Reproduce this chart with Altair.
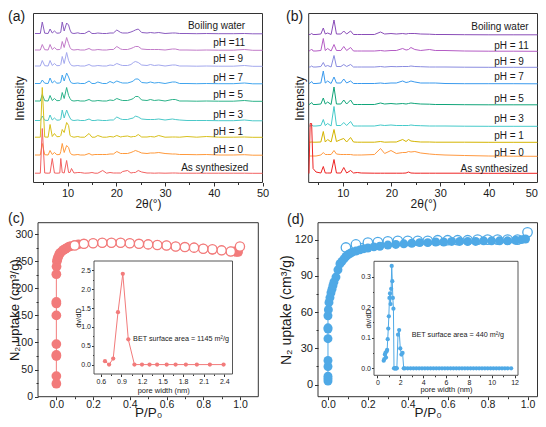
import altair as alt
import pandas as pd

FONT = "Liberation Sans"
INK = "#1a1a1a"
W, H, M = 530, 411, 8

# ---------------- (a) PXRD ----------------
names_a = ["Boiling water", "pH =11", "pH = 9", "pH = 7", "pH = 5", "pH = 3", "pH = 1", "pH = 0", "As synthesized"]
colors_a = ["#8B5CC0", "#C27CC9", "#A3A8EE", "#41A5EE", "#2DB38A", "#4CC9C9", "#D8C01C", "#FF9A3C", "#F26262"]
offsets_a = [148.5, 132, 116, 98.5, 81, 61.5, 45, 27, 9]
label_x_a = [34.7, 39.9, 39.9, 39.9, 39.9, 39.9, 39.9, 39.9, 33.3]
label_y_a = [157, 140, 123.5, 105, 87.5, 67.5, 50.5, 32.5, 14.5]
angles_a = [3.3, 4.4, 4.8, 5.3, 6.0, 6.4, 6.85, 7.3, 7.8, 8.4, 8.6, 8.9, 9.3, 9.8, 10.2, 10.5, 10.8, 11.3,
            12.1, 12.6, 13.5, 14.4, 15.0, 15.6, 16.2, 17.2, 18.0, 18.7, 19.4, 20.1, 20.9, 21.3, 22.3, 23.0,
            23.5, 23.9, 24.5, 25.2, 26.3, 27.0, 27.8, 28.7, 30.0, 31.5, 32.1, 33.0, 34.5, 36.5, 38.5, 41.0,
            44.0, 46.3, 48.0, 50.0]
xrd_a = [
    [0.5, 0.5, 12, 0.8, 0.5, 5, 1, 3, 0.8, 1, 2, 12, 3, 11, 9, 4, 1, 0.5, 1.2, 0.5, 0.5, 3, 0.5, 0.5, 1,
     0.5, 0.5, 1, 1, 4, 1.5, 1, 1, 2, 3, 4, 5, 1.5, 1, 1.5, 1, 1.5, 0.5, 1, 1, 0.5, 0.5, 0.3, 0.5, 0.3,
     0.3, 0.5, 0.2, 0.2],
    [0.5, 0.5, 6, 0.8, 0.5, 6, 1, 3, 0.8, 1, 2, 9, 3, 13, 7, 3, 1, 0.5, 1, 0.5, 0.5, 2, 0.5, 0.5, 1,
     0.5, 0.5, 1, 1, 4, 1.5, 1, 1, 2, 3, 4, 4, 1.5, 1, 1, 1, 1, 0.5, 1.5, 1.5, 0.5, 0.5, 0.3, 0.5, 0.3,
     0.3, 1, 0.2, 0.2],
    [0.5, 0.5, 6, 0.8, 0.5, 6, 1, 3, 0.8, 1, 2, 10, 3, 14, 6, 3, 1, 0.5, 1, 0.5, 0.5, 2, 0.5, 0.5, 1,
     0.5, 0.5, 1.5, 1, 3, 1.5, 1, 1, 2, 4, 5, 4, 1.5, 1, 2, 1, 1.5, 0.5, 1.5, 1.5, 0.5, 0.5, 0.3, 0.5, 0.3,
     0.3, 1, 0.2, 0.2],
    [0.5, 0.5, 4, 0.8, 0.5, 6, 1, 3, 0.8, 1, 2, 9, 3, 11, 7, 3, 1, 0.5, 1, 0.5, 0.5, 3, 0.5, 0.5, 2,
     0.5, 0.5, 2.5, 1, 3, 1.5, 1, 1, 2, 3, 5, 5, 1.5, 1, 2, 1, 1.5, 0.5, 2, 2, 0.5, 0.5, 0.3, 0.5, 0.3,
     0.3, 1, 0.2, 0.2],
    [0.5, 0.5, 7, 0.8, 0.5, 6, 1, 3, 0.8, 1, 2, 9, 3, 14, 6, 3, 1, 0.5, 1, 0.5, 0.5, 2, 0.5, 0.5, 1,
     0.5, 0.5, 1.5, 1, 3, 1.5, 1, 1, 2, 3, 5, 5, 1.5, 1, 2, 1, 1.5, 0.5, 2, 2, 0.5, 0.5, 0.3, 0.5, 0.3,
     0.3, 1, 0.2, 0.2],
    [0.5, 0.5, 5, 0.8, 0.5, 6, 1, 3, 0.8, 1, 2, 11, 3, 11, 6, 3, 1, 0.5, 1, 0.5, 0.5, 2, 0.5, 0.5, 1,
     0.5, 0.5, 1, 1, 4, 2, 1.5, 1.5, 2.5, 3, 5, 4, 2, 1.5, 1.5, 1.5, 2, 1, 2, 1.5, 1, 0.5, 0.5, 0.5, 0.3,
     0.3, 1, 0.2, 0.2],
    [0.3, 0.3, 50, 0.5, 0.3, 13, 1, 4, 0.8, 1, 2, 8, 5, 15, 12, 2, 1, 0.3, 1, 0.3, 0.3, 4, 0.3, 0.3, 2,
     0.3, 0.3, 1, 0.5, 2, 0.5, 1, 1.5, 0.5, 1, 1, 3, 0.5, 0.5, 1, 0.5, 2, 0.3, 0.5, 0.5, 0.3, 1, 0.3, 1, 0.3,
     0.3, 0.5, 0.2, 0.2],
    [0.5, 0.5, 12, 0.8, 0.5, 5, 1, 3, 0.8, 1, 4, 12, 3, 10, 8, 3, 1, 0.5, 1, 0.5, 0.5, 2, 0.5, 1, 1,
     1, 1, 1.5, 1.5, 4, 2, 2, 2, 3, 4, 5, 4, 2.5, 2, 2.5, 2.5, 3, 2, 1.5, 1.5, 1, 1, 0.8, 1, 0.5,
     0.5, 0.8, 0.3, 0.3],
    [0.3, 0.3, 45, 0.5, 0.3, 0.5, 15, 0.5, 0.3, 0.5, 15, 1, 0.5, 13, 1, 1, 5, 0.5, 1, 1, 0.3, 0.5, 1, 0.3, 0.3,
     3, 0.3, 1, 0.5, 0.5, 0.5, 2, 3, 0.5, 1, 1, 3, 1.5, 0.5, 0.5, 0.3, 0.5, 0.3, 0.5, 0.5, 0.3, 0.3, 0.3, 0.3, 0.3,
     0.3, 0.3, 0.2, 0.2],
]

# ---------------- (b) PXRD ----------------
names_b = ["Boiling water", "pH = 11", "pH = 9", "pH = 7", "pH = 5", "pH = 3", "pH = 1", "pH = 0", "As synthesized"]
colors_b = ["#8A4DB8", "#B55DC5", "#8A8CE0", "#3A9AEE", "#11A57A", "#44CACA", "#D4B400", "#FF9940", "#EE2424"]
offsets_b = [147.5, 131, 115, 98.5, 77.5, 56, 40, 26, 9]
label_x_b = [36.4, 41.1, 41.1, 41.1, 41.1, 41.1, 41.1, 41.1, 34.2]
label_y_b = [155.2, 136.8, 120.8, 105.2, 83.2, 63.5, 46.5, 29.2, 13.2]
angles_b = [3.05, 3.3, 3.6, 3.9, 4.5, 5.5, 6.0, 6.4, 6.9, 7.6, 8.2, 8.7, 9.6, 10.2, 10.8, 11.6, 12.2, 13.0,
            13.8, 16.5, 17.75, 18.6, 19.9, 21.0, 22.3, 23.0, 23.5, 24.0, 24.8, 26.0, 27.8, 29.0, 31.0, 35.0,
            40.0, 45.0, 50.0]
xrd_b = [
    [0.5, 0.5, 1.5, 0.5, 0.5, 1, 7, 1, 2, 0.5, 15, 1, 1, 4, 1, 4, 0.5, 0.5, 0.5, 0.5, 3, 1, 1.5, 1, 1.5,
     1, 1.5, 1.5, 1.5, 1, 0.8, 0.5, 0.5, 0.3, 0.2, 0.2, 0.2],
    [0.5, 1, 2.5, 0.5, 0.5, 1, 13, 1, 3, 0.5, 7, 1, 1, 5, 1, 4, 0.5, 0.5, 0.5, 0.5, 1, 0.5, 1, 1, 3,
     1.5, 2, 4, 2, 1, 2, 1, 1, 0.5, 0.3, 0.3, 0.2],
    [0.5, 0.5, 1.5, 0.5, 0.5, 1, 5, 1, 2, 0.5, 12, 1, 1, 3, 1, 3, 0.5, 0.5, 0.5, 0.5, 1, 0.5, 1, 0.8, 1,
     1, 1, 1.5, 1, 0.8, 0.5, 0.5, 0.5, 0.3, 0.2, 0.2, 0.2],
    [0.5, 1, 2.5, 0.5, 0.5, 1, 13, 1, 3, 0.5, 7, 1, 1, 5, 1, 3, 0.5, 0.5, 0.5, 0.5, 1, 0.5, 1, 1, 3,
     1.5, 2, 3, 2, 1, 1, 1, 0.5, 0.3, 0.3, 0.3, 0.2],
    [0.5, 1, 2.5, 0.5, 0.5, 1, 7, 1, 3, 0.5, 18, 1, 1, 5, 1, 5, 0.5, 0.5, 0.5, 0.5, 2, 1, 1.5, 1, 1.5,
     1, 1.5, 2, 1.5, 1, 0.8, 0.5, 0.5, 0.3, 0.2, 0.2, 0.2],
    [0.5, 0.5, 1.5, 0.5, 0.5, 1, 7, 1, 3, 0.5, 20, 1, 1, 4, 1, 5, 0.5, 0.5, 0.5, 0.5, 1.5, 1, 1.5, 1, 1,
     1, 1, 1.5, 1, 0.8, 0.5, 0.5, 0.5, 0.3, 0.2, 0.2, 0.2],
    [0.3, 0.3, 0.5, 0.3, 0.3, 0.5, 11, 0.5, 3, 0.5, 13, 1, 3, 4, 0.5, 5, 0.5, 0.3, 0.3, 0.3, 1, 0.3, 0.5, 0.5, 3,
     1, 3, 1.5, 1, 0.5, 0.5, 0.3, 0.3, 0.3, 0.2, 0.2, 0.2],
    [0.5, 0.5, 0.5, 0.5, 0.5, 1.5, 4, 2, 2, 2, 6, 2.5, 2, 2, 2, 2, 1.5, 1.5, 1.5, 2, 8, 3, 6, 3, 4,
     4, 5, 4.5, 5, 3.5, 2.5, 2, 1.5, 1, 0.5, 0.3, 0.2],
    [0, 50, 50, 5, 1.5, 0.5, 7, 0.5, 0.5, 0.5, 14, 0.5, 0.5, 6, 0.5, 3, 0.5, 1, 0.5, 0.3, 0.3, 0.3, 0.3, 0.3, 0.3,
     0.5, 1.5, 0.5, 0.3, 0.3, 0.3, 0.3, 0.3, 0.3, 0.2, 0.2, 0.2],
]

# ---------------- (c) N2 isotherm ----------------
COL_C = "#F27B7B"
ads_c_p = [0.0, 0.0, 0.0, 0.0, 0.0, 0.0, 0.0, 0.0, 0.0, 0.001, 0.003, 0.006, 0.01, 0.015, 0.02, 0.03, 0.04,
           0.05, 0.06, 0.07, 0.08, 0.1, 0.12, 0.15, 0.2, 0.25, 0.3, 0.35, 0.4, 0.45, 0.5, 0.55, 0.6, 0.65,
           0.7, 0.75, 0.8, 0.85, 0.9, 0.95, 0.97, 0.98, 0.99]
ads_c_q = [24, 38, 75, 77, 97, 150, 172, 175, 226, 240, 250, 254, 258, 262, 265, 268, 271, 273, 275, 277,
           278, 280, 281, 282, 283, 284, 284, 284, 283, 282, 281, 280, 279, 277, 276, 275, 273, 271, 270,
           268, 268, 267, 267]
des_c_p = [1.0, 0.95, 0.9, 0.85, 0.8, 0.75, 0.7, 0.65, 0.6, 0.55, 0.5, 0.45, 0.4, 0.35, 0.3, 0.25, 0.2, 0.15, 0.1]
des_c_q = [277, 268, 270, 272, 273, 275, 276, 277, 279, 280, 281, 282, 283, 284, 284, 284, 283, 282, 279]
pore_c_w = [0.66, 0.72, 0.78, 0.85, 0.92, 1.0, 1.09, 1.2, 1.31, 1.42, 1.56, 1.69, 1.84, 2.0, 2.19, 2.39]
pore_c_v = [0.09, 0.0, 0.16, 1.39, 2.41, 0.67, 0.0, 0.0, 0.0, 0.0, 0.0, 0.0, 0.0, 0.0, 0.0, 0.0]
bet_c = "BET surface area = 1145 m²/g"

# ---------------- (d) N2 isotherm ----------------
COL_D = "#4FA9E6"
ads_d_p = [0.0, 0.0, 0.0, 0.0, 0.0, 0.0, 0.0, 0.0, 0.0, 0.002, 0.005, 0.01, 0.015, 0.02, 0.025, 0.03,
           0.04, 0.05, 0.06, 0.07, 0.08, 0.09, 0.1, 0.11, 0.12, 0.14, 0.16, 0.18, 0.2, 0.23, 0.26, 0.3,
           0.34, 0.38, 0.42, 0.46, 0.5, 0.54, 0.58, 0.62, 0.66, 0.7, 0.74, 0.78, 0.82, 0.86, 0.9, 0.94,
           0.97, 0.99]
ads_d_q = [3, 5, 7, 15, 20, 38, 46, 47, 57, 62, 68, 72, 76, 79, 82, 85, 89, 95, 100, 102, 104, 106, 107.5,
           108.5, 109.5, 110.5, 111.5, 112.5, 113, 114, 114.5, 115.5, 116, 116.5, 117, 117.5, 117.5, 118,
           118, 118.5, 118.5, 118.5, 118.5, 119, 119, 119, 119, 119.5, 120, 120.5]
des_d_p = [1.0, 0.95, 0.9, 0.85, 0.8, 0.75, 0.7, 0.65, 0.6, 0.55, 0.5, 0.45, 0.4, 0.35, 0.3, 0.25, 0.2, 0.14, 0.09]
des_d_q = [126, 120, 120, 120, 120, 120, 119.5, 119.5, 119.5, 119.5, 119, 119, 119, 119, 118.5, 118, 117.5,
           116, 113.5]
pore_d_w = [0.55, 0.6, 0.65, 0.7, 0.75, 0.8, 0.85, 0.9, 0.95, 1.0, 1.05, 1.1, 1.15, 1.2, 1.25, 1.3, 1.35,
            1.4, 1.45, 1.5, 1.55, 1.6, 1.65, 1.7, 1.8, 1.9, 2.0, 2.1, 2.2, 2.3, 2.4, 2.65, 2.9, 3.15, 3.4,
            3.65, 3.9, 4.15, 4.4, 4.65, 4.9, 5.15, 5.4, 5.65, 5.9, 6.15, 6.4, 6.65, 6.9, 7.15, 7.4, 7.65,
            7.9, 8.15, 8.4, 8.65, 8.9, 9.15, 9.4, 9.65, 9.9, 10.15, 10.4, 10.65, 10.9, 11.15, 11.4, 11.7]
pore_d_v = [0.025, 0.03, 0.045, 0.05, 0.035, 0.055, 0.06, 0.095, 0.13, 0.17, 0.23, 0.245, 0.21, 0.26,
            0.335, 0.285, 0.23, 0.195, 0.0, 0.0, 0.0, 0.0, 0.0, 0.0, 0.11, 0.125, 0.065, 0.045, 0.05, 0.0,
            0.0, 0.0, 0.0, 0.0, 0.0, 0.0, 0.0, 0.0, 0.0, 0.0, 0.0, 0.0, 0.0, 0.0, 0.0, 0.0, 0.0, 0.0,
            0.0, 0.0, 0.0, 0.0, 0.0, 0.0, 0.0, 0.0, 0.0, 0.0, 0.0, 0.0, 0.0, 0.0, 0.0, 0.0, 0.0, 0.0,
            0.0, 0.0]
bet_d = "BET surface area = 440 m²/g"

# ---------------- layout (page pixels) ----------------
PANEL = {
    "a": dict(xd=[3, 50], xr=[33.5, 262.5], yd=[0, 169], yr=[182.5, 13.5]),
    "b": dict(xd=[3, 50], xr=[308.7, 537.5], yd=[0, 169], yr=[182.5, 13.5]),
    "c": dict(xd=[-0.1, 1.1], xr=[38, 258.3], yd=[0, 321], yr=[396.7, 222.7]),
    "d": dict(xd=[-0.05, 1.05], xr=[318, 537.5], yd=[-10, 134], yr=[396.7, 222.7]),
    "ic": dict(xd=[0.5, 2.52], xr=[94, 232.5], yd=[-0.25, 2.75], yr=[374, 261]),
    "id": dict(xd=[-0.3, 12.3], xr=[374, 518], yd=[-0.023, 0.35], yr=[375.3, 261.3]),
}


def scx(p):
    d = PANEL[p]
    return alt.Scale(domain=d["xd"], range=[v - M for v in d["xr"]], nice=False, zero=False)


def scy(p):
    d = PANEL[p]
    return alt.Scale(domain=d["yd"], range=[v - M for v in d["yr"]], nice=False, zero=False)


def axis(orient, p, values=None, labels=True, ticks=True, tick_size=3.5, fmt=None, title=None,
         title_size=12, title_pos=None, label_size=11, label_pad=1, flush=False):
    d = PANEL[p]
    off = (d["yr"][0] - M) - H if orient == "bottom" else -(d["xr"][0] - M)
    kw = dict(orient=orient, offset=off, domain=False, grid=False, ticks=ticks, tickSize=tick_size,
              tickColor=INK, tickWidth=0.9, labels=labels, labelFont=FONT, labelFontSize=label_size,
              labelColor=INK, labelPadding=label_pad, labelFlush=flush, labelOverlap=False)
    if values is not None:
        kw["values"] = values
    if fmt:
        kw["format"] = fmt
    if title:
        kw.update(title=title, titleFont=FONT, titleFontSize=title_size, titleFontWeight="normal",
                  titleColor=INK, titleBaseline="middle")
        if orient == "bottom":
            kw["titleY"] = title_pos
        else:
            kw["titleX"] = title_pos
    else:
        kw["title"] = None
    return alt.Axis(**kw)


def frame(p, xaxis=None, yaxis=None, **mark):
    d = PANEL[p]
    df = pd.DataFrame({"x0": [d["xd"][0]], "x1": [d["xd"][1]], "y0": [d["yd"][0]], "y1": [d["yd"][1]]})
    return alt.Chart(df).mark_rect(**mark).encode(
        x=alt.X("x0:Q", scale=scx(p), axis=xaxis), x2=alt.X2("x1"),
        y=alt.Y("y0:Q", scale=scy(p), axis=yaxis), y2=alt.Y2("y1"))


def series(p, xs, ys):
    return pd.DataFrame({"x": xs, "y": ys, "i": list(range(len(xs)))})


def enc(chart, p):
    return chart.encode(x=alt.X("x:Q", scale=scx(p), axis=None), y=alt.Y("y:Q", scale=scy(p), axis=None))


layers = []

# ----- panels (a) and (b) -----
for p, names, colors, offs, angles, xrd, lx, ly, ytitle_x, flush in [
    ("a", names_a, colors_a, offsets_a, angles_a, xrd_a, label_x_a, label_y_a, -14.5, False),
    ("b", names_b, colors_b, offsets_b, angles_b, xrd_b, label_x_b, label_y_b, -9, True),
]:
    layers.append(frame(p,
                        xaxis=axis("bottom", p, [10, 20, 30, 40, 50], fmt="d", title="2θ(°)", title_pos=21,
                                   flush=flush),
                        yaxis=axis("left", p, labels=False, ticks=False, title="Intensity", title_pos=ytitle_x),
                        fillOpacity=0, stroke="#333", strokeWidth=1))
    layers.append(frame(p, xaxis=axis("bottom", p, [5, 15, 25, 35, 45], labels=False, tick_size=2),
                        opacity=0))
    for name, col, off, vals in zip(names, colors, offs, xrd):
        df = series(p, angles, [off + v for v in vals])
        layers.append(enc(alt.Chart(df).mark_line(color=col, strokeWidth=1), p))
    tdf = pd.DataFrame({"x": lx, "y": ly, "t": names})
    layers.append(enc(alt.Chart(tdf).mark_text(align="left", baseline="middle", font=FONT, fontSize=10,
                                               color=INK), p).encode(text="t:N"))


def iso_panel(p, ads_p, ads_q, des_p, des_q, col, yvals, yminor, xtitle_pos, ytitle_pos, ytitle_size,
              fill_size, open_size, filled_on_top, ylabel_size):
    layers.append(frame(p,
                        xaxis=axis("bottom", p, [0, 0.2, 0.4, 0.6, 0.8, 1.0], fmt=".1f", title="P/P₀",
                                   title_size=13.5, title_pos=xtitle_pos, tick_size=3, label_pad=0,
                                   label_size=10.5),
                        yaxis=axis("left", p, yvals, fmt="d", title="N₂ uptake (cm³/g)",
                                   title_size=ytitle_size, title_pos=ytitle_pos, label_pad=2,
                                   label_size=ylabel_size),
                        fillOpacity=0, stroke="#333", strokeWidth=1))
    layers.append(frame(p, xaxis=axis("bottom", p, [0.1, 0.3, 0.5, 0.7, 0.9], labels=False, tick_size=2),
                        yaxis=axis("left", p, yminor, labels=False, tick_size=2), opacity=0))
    ads = series(p, ads_p, ads_q)
    des = series(p, des_p, des_q)
    ads_layers = [
        enc(alt.Chart(ads).mark_line(color=col, strokeWidth=1), p).encode(order="i:Q"),
        enc(alt.Chart(ads).mark_point(shape="circle", filled=True, color=col, size=fill_size, opacity=1), p),
    ]
    des_layers = [
        enc(alt.Chart(des).mark_line(color=col, strokeWidth=1), p).encode(order="i:Q"),
        enc(alt.Chart(des).mark_point(shape="circle", filled=True, fill="white", stroke=col, strokeWidth=1.3,
                                      size=open_size, opacity=1), p),
    ]
    if filled_on_top:
        layers.extend(des_layers + ads_layers)
    else:
        layers.extend(ads_layers + des_layers)


def inset(p, w, v, col, xvals, xminor, xfmt, yvals, yminor, ytitle_pos, xtitle_pos, txt, tx, ty, psize):
    layers.append(frame(p,
                        xaxis=axis("bottom", p, xvals, fmt=xfmt, title="pore width (nm)", title_size=7.5,
                                   title_pos=xtitle_pos, label_size=7, tick_size=2.5, label_pad=0.5),
                        yaxis=axis("left", p, yvals, fmt=".1f", title="dv/dD", title_size=7.5,
                                   title_pos=ytitle_pos, label_size=7, tick_size=2.5, label_pad=1),
                        fill="white", stroke="#444", strokeWidth=0.9))
    layers.append(frame(p, xaxis=axis("bottom", p, xminor, labels=False, tick_size=1.5),
                        yaxis=axis("left", p, yminor, labels=False, tick_size=1.5), opacity=0))
    df = series(p, w, v)
    layers.append(enc(alt.Chart(df).mark_line(color=col, strokeWidth=1), p).encode(order="i:Q"))
    layers.append(enc(alt.Chart(df).mark_point(shape="circle", filled=True, color=col, size=psize, opacity=1), p))
    tdf = pd.DataFrame({"x": [tx], "y": [ty], "t": [txt]})
    layers.append(enc(alt.Chart(tdf).mark_text(align="left", baseline="middle", font=FONT, fontSize=7.2,
                                               color=INK), p).encode(text="t:N"))


iso_panel("c", ads_c_p, ads_c_q, des_c_p, des_c_q, COL_C, [0, 50, 100, 150, 200, 250, 300],
          [25, 75, 125, 175, 225, 275], 16, -24, 13, 95, 85, False, 10.5)
inset("ic", pore_c_w, pore_c_v, COL_C, [0.6, 0.9, 1.2, 1.5, 1.8, 2.1, 2.4],
      [0.75, 1.05, 1.35, 1.65, 1.95, 2.25], ".1f", [0, 0.5, 1.0, 1.5, 2.0, 2.5],
      [0.25, 0.75, 1.25, 1.75, 2.25], -16, 16, bet_c, 1.07, 0.67, 18)

iso_panel("d", ads_d_p, ads_d_q, des_d_p, des_d_q, COL_D, [0, 30, 60, 90, 120],
          [15, 45, 75, 105], 16, -31.7, 14, 80, 90, True, 11)
inset("id", pore_d_w, pore_d_v, COL_D, [0, 2, 4, 6, 8, 10, 12], [1, 3, 5, 7, 9, 11], "d",
      [0, 0.1, 0.2, 0.3], [0.05, 0.15, 0.25], -6, 14.5, bet_d, 3.0, 0.11, 18)

# panel letters
for letter, px, py in [("(a)", 0, 2), ("(b)", 278, 2), ("(c)", 0, 204), ("(d)", 279, 205)]:
    layers.append(alt.Chart(pd.DataFrame({"t": [letter]})).mark_text(
        align="left", baseline="top", font=FONT, fontSize=14, color=INK).encode(
        x=alt.value(px), y=alt.value(py), text="t:N"))

chart = alt.layer(*layers).resolve_scale(
    x="independent", y="independent").resolve_axis(
    x="independent", y="independent").properties(
    width=W, height=H, padding=0, autosize=alt.AutoSizeParams(type="none")).configure_view(stroke=None)

chart.save("out.html", embed_options={"renderer": "svg", "actions": False})
